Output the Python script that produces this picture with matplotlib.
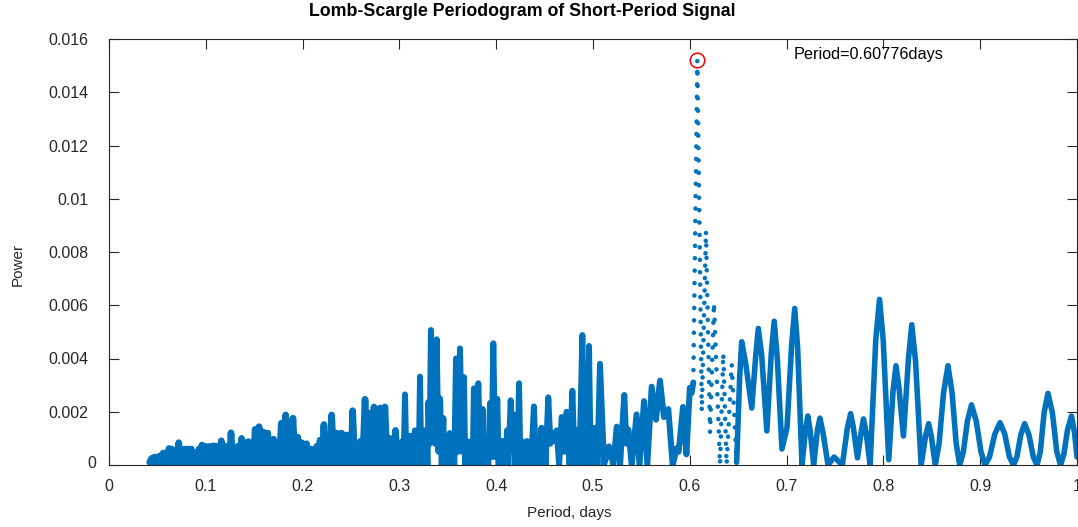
import numpy as np
import matplotlib
matplotlib.use("Agg")
import matplotlib.pyplot as plt
from matplotlib.transforms import ScaledTranslation

plt.rcParams['font.family'] = ['Liberation Sans', 'DejaVu Sans']

# ---- values (period in days, power) ----
# short periods: dense forest of narrow peaks, alternating peak / trough
short_period = [0.042, 0.044, 0.0455, 0.047, 0.0485, 0.050, 0.0515, 0.053, 0.0545, 0.056,
                0.0575, 0.059, 0.0605, 0.062, 0.0635, 0.065, 0.0665, 0.068, 0.070, 0.072,
                0.0735, 0.075, 0.0765, 0.078, 0.080, 0.082, 0.0835, 0.085, 0.087, 0.089,
                0.091, 0.093, 0.0945, 0.096, 0.098, 0.100, 0.102, 0.104, 0.106, 0.108,
                0.110, 0.112, 0.114, 0.116, 0.118, 0.120, 0.1215, 0.123, 0.1245, 0.126,
                0.128, 0.130, 0.1315, 0.133, 0.135, 0.137, 0.1385, 0.140, 0.142, 0.144,
                0.1455, 0.147, 0.149, 0.151, 0.153, 0.155, 0.157, 0.159, 0.1605, 0.162,
                0.163, 0.164, 0.1655, 0.167, 0.1685, 0.170, 0.172, 0.174, 0.176, 0.178,
                0.180, 0.1825, 0.1848, 0.187, 0.1885, 0.190, 0.1925, 0.195, 0.197, 0.199,
                0.2015, 0.204, 0.2065, 0.209, 0.212, 0.2146, 0.2163, 0.218, 0.220, 0.222,
                0.224, 0.226, 0.228, 0.230, 0.2325, 0.235, 0.2375, 0.240, 0.242, 0.244,
                0.246, 0.248, 0.250, 0.2517, 0.254, 0.256, 0.258, 0.260, 0.262, 0.2645,
                0.267, 0.269, 0.2715, 0.2738, 0.2755, 0.277, 0.2785, 0.280, 0.2825, 0.285,
                0.2875, 0.290, 0.293, 0.296, 0.298]
short_power = [0.0001, 0.00025, 0.0, 0.0003, 0.0, 0.0003, 0.0, 0.00035, 0.0, 0.00045,
               0.0, 0.00045, 0.0, 0.00062, 0.0, 0.0006, 0.0, 0.00045, 0.0, 0.00084,
               0.0, 0.0006, 0.0, 0.0006, 0.0, 0.0006, 0.0, 0.0006, 0.0, 0.00045,
               0.0, 0.0006, 0.0, 0.00075, 0.0, 0.0007, 0.0, 0.0007, 0.0, 0.00072,
               0.0, 0.0007, 0.0, 0.00091, 0.0, 0.0007, 0.0, 0.0007, 0.0, 0.00121,
               0.0, 0.0006, 0.0, 0.0007, 0.0, 0.001, 0.0, 0.00084, 0.0, 0.00088,
               0.0, 0.0008, 0.0, 0.00134, 0.0, 0.00144, 0.0, 0.00124, 0.0, 0.0012,
               0.0, 0.0012, 0.0, 0.00088, 0.0, 0.00097, 0.0, 0.00084, 0.0, 0.00157,
               0.0, 0.00188, 0.0, 0.0012, 0.0, 0.00176, 0.0, 0.00105, 0.0, 0.00084,
               0.0, 0.0008, 0.0, 0.0006, 0.0, 0.0007, 0.0, 0.00093, 0.0, 0.00152,
               0.0, 0.0008, 0.0, 0.00188, 0.0, 0.0012, 0.0, 0.0012, 0.0, 0.00113,
               0.0, 0.00113, 0.0, 0.00204, 0.0, 0.0007, 0.0, 0.0009, 0.0, 0.00247,
               0.0, 0.00195, 0.0, 0.00218, 0.0, 0.0012, 0.0, 0.00214, 0.0, 0.00218,
               0.0, 0.001, 0.0, 0.0013, 0.0]

# 0.3 - 0.6 days
mid_period = [0.300, 0.3015, 0.303, 0.3043, 0.3058, 0.3072, 0.3088, 0.3098, 0.311, 0.3123,
              0.3137, 0.3148, 0.316, 0.3172, 0.3187, 0.320, 0.3213, 0.3225, 0.324, 0.325,
              0.326, 0.327, 0.328, 0.329, 0.330, 0.3313, 0.3326, 0.3338, 0.335, 0.3368,
              0.3385, 0.3403, 0.342, 0.3437, 0.3454, 0.3462, 0.3472, 0.348, 0.349, 0.3505,
              0.352, 0.3535, 0.355, 0.3567, 0.3585, 0.3605, 0.3626, 0.3647, 0.3667, 0.368,
              0.3695, 0.3705, 0.3715, 0.373, 0.3745, 0.3757, 0.377, 0.3792, 0.3815, 0.3838,
              0.386, 0.387, 0.388, 0.389, 0.390, 0.3918, 0.3936, 0.3953, 0.397, 0.399,
              0.4011, 0.4025, 0.4038, 0.405, 0.4063, 0.4075, 0.4088, 0.410, 0.4112, 0.4125,
              0.415, 0.4165, 0.418, 0.4195, 0.421, 0.422, 0.4236, 0.425, 0.4265, 0.4275,
              0.429, 0.4305, 0.4318, 0.433, 0.4345, 0.436, 0.439, 0.441, 0.442, 0.443,
              0.4443, 0.4455, 0.4468, 0.448, 0.4495, 0.451, 0.4538, 0.456, 0.458, 0.460,
              0.4625, 0.465, 0.4677, 0.4703, 0.4728, 0.4758, 0.4787, 0.481, 0.483, 0.486,
              0.489, 0.4908, 0.4925, 0.4942, 0.4959, 0.4975, 0.499, 0.5005, 0.502, 0.5046,
              0.5072, 0.5114, 0.5165, 0.521, 0.5245, 0.528, 0.5323, 0.5345, 0.5365, 0.540,
              0.545, 0.548, 0.5527, 0.5561, 0.5606, 0.5651, 0.5692, 0.5733, 0.5778, 0.5823,
              0.5864, 0.5885, 0.593, 0.5965, 0.600, 0.6018, 0.6036]
mid_power = [0.0008, 0.0, 0.0009, 0.0, 0.00265, 0.0, 0.0008, 0.0, 0.0011, 0.0,
             0.0009, 0.0, 0.0013, 0.0, 0.0009, 0.0, 0.00332, 0.0, 0.0009, 0.0,
             0.0013, 0.0, 0.0008, 0.0, 0.00237, 0.0008, 0.00507, 0.001, 0.0035, 0.0008,
             0.00472, 0.0005, 0.0025, 0.0, 0.00176, 0.0, 0.0009, 0.0, 0.0008, 0.0,
             0.0012, 0.0, 0.0009, 0.0, 0.004, 0.0005, 0.00438, 0.0005, 0.0033, 0.0,
             0.0009, 0.0, 0.0008, 0.0, 0.0009, 0.0, 0.00288, 0.0, 0.00307, 0.0,
             0.0021, 0.0, 0.0009, 0.0, 0.0008, 0.0, 0.00233, 0.0003, 0.00457, 0.0003,
             0.00248, 0.0, 0.0009, 0.0, 0.0009, 0.0, 0.0008, 0.0, 0.0013, 0.0,
             0.00243, 0.0008, 0.0019, 0.0, 0.0009, 0.0, 0.00307, 0.0, 0.0009, 0.0,
             0.0008, 0.0, 0.0009, 0.0, 0.0007, 0.0, 0.0022, 0.0, 0.0008, 0.0,
             0.0009, 0.0, 0.0014, 0.0, 0.001, 0.0, 0.00254, 0.0008, 0.0012, 0.0009,
             0.0013, 0.0, 0.0018, 0.0005, 0.002, 0.0, 0.00279, 0.0, 0.0013, 0.0,
             0.00488, 0.0, 0.0015, 0.0, 0.00447, 0.0, 0.0003, 0.0, 0.0014, 0.0,
             0.0038, 0.0, 0.0007, 0.0, 0.00144, 0.0, 0.00263, 0.0008, 0.00133, 0.0,
             0.0019, 0.0, 0.0024, 0.0, 0.00294, 0.0017, 0.00317, 0.0018, 0.0021, 0.0,
             0.00063, 0.0005, 0.00218, 0.0004, 0.0029, 0.0027, 0.0031]

# main peak and its side lobes (resolved as separate dots in the reference)
peak_period = [0.6036, 0.6078, 0.6124, 0.6167, 0.6209, 0.6250, 0.6312, 0.6346, 0.6380,
               0.6433, 0.6484]
peak_power = [0.0031, 0.0152, 0.002, 0.0088, 0.0012, 0.0061, 0.0, 0.0042, 0.0,
              0.0038, 0.0001]

# long periods: broad lobes
long_period = [0.6484, 0.6515, 0.6536, 0.6578, 0.664, 0.6681, 0.6708, 0.6743, 0.6796, 0.6842,
               0.6872, 0.6904, 0.6952, 0.7004, 0.7052, 0.7084, 0.7114, 0.7159, 0.7195, 0.7219,
               0.7243, 0.728, 0.7318, 0.7344, 0.7377, 0.7428, 0.749, 0.7576, 0.7628, 0.7662,
               0.769, 0.7732, 0.7769, 0.7794, 0.7822, 0.7863, 0.7921, 0.796, 0.7998, 0.8055,
               0.81, 0.813, 0.8161, 0.8207, 0.8259, 0.8293, 0.8332, 0.839, 0.8436, 0.8467,
               0.8494, 0.8536, 0.8575, 0.8621, 0.8667, 0.871, 0.8752, 0.8789, 0.8826, 0.8868,
               0.891, 0.8959, 0.9008, 0.905, 0.9096, 0.9151, 0.9205, 0.9254, 0.9302, 0.9344,
               0.9379, 0.9419, 0.9459, 0.9504, 0.9549, 0.9587, 0.9621, 0.966, 0.970, 0.9746,
               0.9791, 0.983, 0.9864, 0.9903, 0.9943, 0.9975, 1.0]
long_power = [0.0001, 0.0033, 0.00463, 0.0038, 0.00214, 0.0041, 0.00513, 0.0041, 0.00128, 0.0042,
              0.0054, 0.004, 0.0006, 0.0014, 0.0045, 0.00588, 0.0044, 0.0, 0.0013, 0.00184,
              0.0013, 0.0, 0.0013, 0.00176, 0.0012, 0.0, 0.0003, 0.0, 0.0014, 0.00193,
              0.0014, 0.00027, 0.0012, 0.00173, 0.0012, 0.0, 0.0047, 0.00622, 0.0047, 0.0002,
              0.0028, 0.00373, 0.0029, 0.00109, 0.004, 0.00527, 0.0039, 0.0, 0.0011, 0.00155,
              0.0011, 0.0, 0.0008, 0.0027, 0.00373, 0.0027, 0.0008, 0.0, 0.0005, 0.00165,
              0.00226, 0.00165, 0.0005, 0.0, 0.0003, 0.00116, 0.00159, 0.00116, 0.0003, 0.0,
              0.0003, 0.00113, 0.00155, 0.00113, 0.0003, 0.0, 0.0005, 0.00196, 0.00269, 0.00196,
              0.0005, 0.0, 0.0004, 0.00134, 0.00184, 0.0012, 0.0003]

best_period = 0.60776
best_power = 0.0152

yticks = [0, 0.002, 0.004, 0.006, 0.008, 0.01, 0.012, 0.014, 0.016]
ytick_labels = ['0', '0.002', '0.004', '0.006', '0.008', '0.01', '0.012', '0.014', '0.016']
xticks = [0, 0.1, 0.2, 0.3, 0.4, 0.5, 0.6, 0.7, 0.8, 0.9, 1]
xtick_labels = ['0', '0.1', '0.2', '0.3', '0.4', '0.5', '0.6', '0.7', '0.8', '0.9', '1']

blue = '#0072BD'
dark = '#262626'

W, H = 1078, 527
fig = plt.figure(figsize=(W / 100, H / 100), dpi=100)
ax = fig.add_axes([109 / W, (H - 465) / H, (1077 - 109) / W, (465 - 39) / H])

ax.plot(short_period, short_power, color=blue, lw=4.8, solid_joinstyle='round',
        solid_capstyle='round')
ax.plot(mid_period, mid_power, color=blue, lw=4.3, solid_joinstyle='round',
        solid_capstyle='round')
ax.plot(long_period, long_power, color=blue, lw=4.0, solid_joinstyle='round',
        solid_capstyle='round')
# dotted look of the steep main peak
ax.plot(peak_period, peak_power, color=blue, lw=3.3, linestyle=(0, (0.01, 2.7)),
        dash_capstyle='round')

ax.plot(best_period, best_power, 'o', ms=10.5, mfc='none', mec='#FF0000', mew=1.1)
ax.text(best_period + 0.1, best_power + 0.0002, 'Period=%.5fdays' % best_period,
        fontsize=11.7, color='black', ha='left', va='center')

ax.set_xlim(0, 1)
ax.set_ylim(0, 0.016)
ax.set_xticks(xticks)
ax.set_xticklabels(xtick_labels)
ax.set_yticks(yticks)
ax.set_yticklabels(ytick_labels)
ax.tick_params(direction='in', length=7, width=0.8, color=dark, labelcolor=dark,
               labelsize=11.5, top=True, right=True)
ax.tick_params(axis='y', pad=15)
ax.tick_params(axis='x', pad=10)
for s in ax.spines.values():
    s.set_color(dark)
    s.set_linewidth(0.8)

# the "0" label on the y axis sits a little to the right and up in the reference
zero_lab = ax.yaxis.get_major_ticks()[0].label1
zero_lab.set_transform(zero_lab.get_transform()
                       + ScaledTranslation(8 / 100, 3 / 100, fig.dpi_scale_trans))

fig.text(522 / W, 1 - 12 / H, 'Lomb-Scargle Periodogram of Short-Period Signal',
         ha='center', va='center', fontsize=12.8, fontweight='bold', color='black')
fig.text(569 / W, 1 - 513 / H, 'Period, days', ha='center', va='center',
         fontsize=11, color=dark)
fig.text(18 / W, 1 - 264 / H, 'Power', ha='center', va='center', rotation=90,
         fontsize=11, color=dark)

fig.savefig('out.png', dpi=100)
